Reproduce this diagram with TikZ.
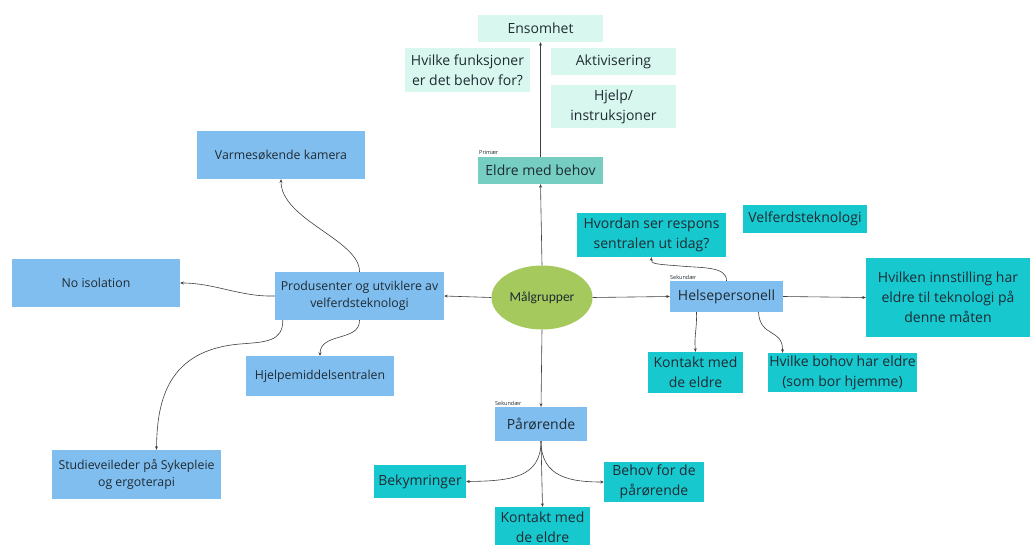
\documentclass[tikz,border=0pt]{standalone}
\usepackage{fontspec}
\setmainfont{Open Sans}
\newfontfamily\hubfont{Carlito}
\usetikzlibrary{arrows.meta,shapes.geometric}

\definecolor{mint}{HTML}{D8F7EE}
\definecolor{teal}{HTML}{76CEC3}
\definecolor{skyblue}{HTML}{80BEF0}
\definecolor{cyanbox}{HTML}{17C8CF}
\definecolor{leaf}{HTML}{A5C95D}
\definecolor{ink}{HTML}{1F2B33}
\definecolor{wire}{HTML}{404040}

\tikzset{
  box/.style={inner sep=0pt, align=center, text=ink,
              font=\fontsize{14}{20}\selectfont},
  mintbox/.style={box, fill=mint},
  tealbox/.style={box, fill=teal},
  bluebox/.style={box, fill=skyblue, font=\fontsize{12.3}{17}\selectfont},
  bluebig/.style={box, fill=skyblue},
  cyanb/.style={box, fill=cyanbox},
  tag/.style={inner sep=0pt, anchor=south west, text=ink,
              font=\fontsize{5.5}{6}\selectfont},
  link/.style={draw=wire, line width=0.6pt,
               -{Stealth[length=3.5pt,width=3pt]}},
}

\newcommand{\bx}[6]{% style, name, cx, cy, w, h
  \node[#1, minimum width=#5pt, minimum height=#6pt] (#2) at (#3,#4)}

\begin{document}
\begin{tikzpicture}[x=1pt,y=-1pt]
\useasboundingbox[fill=white] (0,0) rectangle (1030,545);

% upper group around the elderly
\bx{mintbox}{ens}{540.5}{28.5}{125}{27} {Ensomhet};
\bx{mintbox}{funk}{467.5}{70}{125}{44} {Hvilke funksjoner\\er det behov for?};
\bx{mintbox}{akt}{613.5}{61.5}{125}{27} {Aktivisering};
\bx{mintbox}{hjelp}{613.5}{106.5}{125}{43} {Hjelp/\\instruksjoner};
\bx{tealbox}{eldre}{540.5}{170.5}{125}{27} {Eldre med behov};
\node[tag] (primtag) at (479,155) {Primær};

% centre
\node[ellipse, fill=leaf, minimum width=101pt, minimum height=64pt,
      inner sep=0pt, text=ink, font=\hubfont\fontsize{13.5}{15}\selectfont]
      (ell) at (542,297.5) {Målgrupper};

% health personnel branch
\bx{cyanb}{resp}{651.5}{235}{149}{44} {Hvordan ser respons\\sentralen ut idag?};
\bx{cyanb}{velf}{805}{219}{124}{28} {Velferdsteknologi};
\bx{bluebig}{helse}{726.5}{296.5}{113}{31} {Helsepersonell};
\node[tag] (sektag1) at (670,280) {Sekundær};
\bx{cyanb}{innst}{948}{297.5}{164}{79} {Hvilken innstilling har\\eldre til teknologi på\\denne måten};
\bx{cyanb}{kont1}{695.5}{372.5}{95}{41} {Kontakt med\\de eldre};
\bx{cyanb}{bohov}{842.5}{372.5}{149}{39} {Hvilke bohov har eldre\\(som bor hjemme)};

% producers branch
\bx{bluebox}{varme}{281}{155}{168}{48} {Varmesøkende kamera};
\bx{bluebox}{noiso}{96}{283}{168}{48} {No isolation};
\bx{bluebox}{prod}{359.5}{296}{169}{48} {Produsenter og utviklere av\\velferdsteknologi};
\bx{bluebox}{hjm}{320}{376}{148}{40} {Hjelpemiddelsentralen};
\bx{bluebox}{stud}{136.5}{474.5}{169}{49} {Studieveileder på Sykepleie\\og ergoterapi};

% relatives branch
\bx{bluebig}{paar}{541}{424}{92}{34} {Pårørende};
\node[tag] (sektag2) at (495,406) {Sekundær};
\bx{cyanb}{bek}{420}{481.5}{92}{33} {Bekymringer};
\bx{cyanb}{behov}{654}{482}{100}{40} {Behov for de\\pårørende};
\bx{cyanb}{kont2}{542.5}{527.5}{95}{41} {Kontakt med\\de eldre};

% connectors
\draw[link] (ell.north) -- (eldre.south);
\draw[link] (eldre.north) -- (ens.south);
\draw[link] (ell.east) -- (helse.west);
\draw[link] (helse.east) -- (innst.west);
\draw[link] (ell.west) -- (prod.east);
\draw[link] (ell.south) -- (paar.north);

\draw[link] (helse.north) .. controls (727,266) and (700,268) .. (680,266)
            .. controls (655,264) and (651,264) .. (resp.south);
\draw[link] ([xshift=-30pt]helse.south) .. controls (697,330) and (694,335) .. (kont1.north);
\draw[link] ([xshift=32pt]helse.south) .. controls (760,338) and (783,328) .. ([xshift=-60pt]bohov.north);

\draw[link] (prod.north) .. controls (360,240) and (281,220) .. (varme.south);
\draw[link] (prod.west) .. controls (240,297) and (215,283) .. (noiso.east);
\draw[link] (prod.south) .. controls (360,342) and (320,332) .. (hjm.north);
\draw[link] ([xshift=8pt]prod.south west) .. controls (283,342) and (265,342) .. (240,344)
            .. controls (168,350) and (157,400) .. ([xshift=20pt]stud.north);

\draw[link] (paar.south) .. controls (541,478) and (510,481) .. (bek.east);
\draw[link] (paar.south) .. controls (541,478) and (572,482) .. (behov.west);
\draw[link] (paar.south) -- (kont2.north);
\end{tikzpicture}
\end{document}
